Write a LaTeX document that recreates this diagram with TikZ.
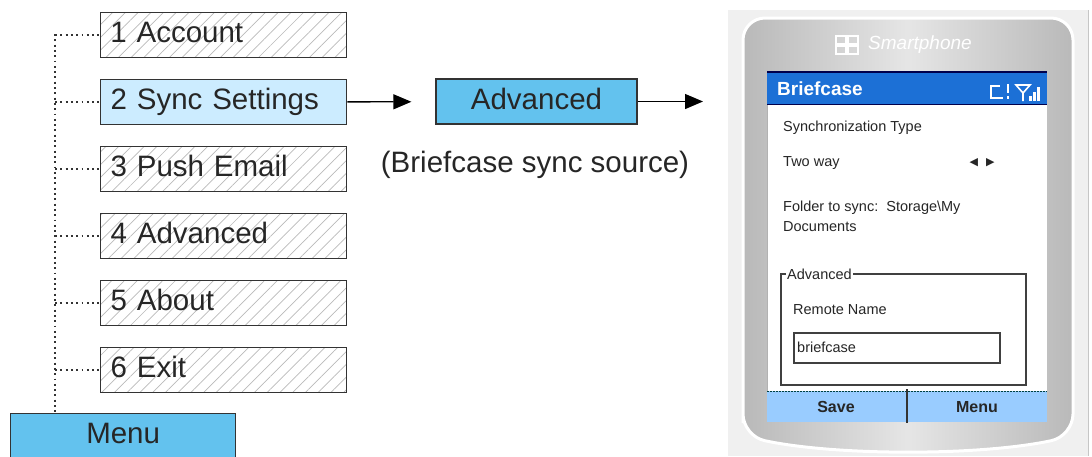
\documentclass[tikz,border=0pt]{standalone}
\usepackage{fontspec}
\setmainfont{Liberation Sans}
\newfontfamily\symfont{DejaVu Sans}
\usetikzlibrary{positioning,patterns.meta,arrows.meta}
\definecolor{selblue}{RGB}{204,236,255}
\definecolor{actblue}{RGB}{99,194,238}
\definecolor{barblue}{RGB}{28,112,214}
\definecolor{keyblue}{RGB}{153,204,255}
\begin{document}
\begin{tikzpicture}[x=1pt, y=-1pt,
    bx/.style={draw=black!80, line width=1.3pt, minimum height=45pt, text=black!85,
      text height=21pt, text depth=6pt, font=\fontsize{29.5}{32}\selectfont},
    itm/.style={bx, anchor=north west, text width=226pt, inner xsep=10pt, align=left,
      pattern={Lines[angle=45,distance=9pt,line width=0.7pt]}, pattern color=gray!55},
    sel/.style={bx, anchor=north west, text width=226pt, inner xsep=10pt, align=left, fill=selblue},
    act/.style={bx, fill=actblue},
    dot/.style={black!80, line width=1.9pt, dash pattern=on 1.9pt off 3.4pt},
    ar/.style={black, line width=1.3pt, -{Triangle[length=18pt,width=15pt]}},
    ph/.style={anchor=west, inner sep=0pt, text=black!85, font=\fontsize{14.5}{17}\selectfont},
    key/.style={inner sep=0pt, text=black!85, font=\bfseries\fontsize{16}{18}\selectfont}
  ]
  \useasboundingbox (0,0) rectangle (1092,456);
  % menu items
  \foreach \n/\t in {1/Account,3/Push Email,4/Advanced,5/About,6/Exit} {
    \node[itm] (m\n) at (100,{12+67*(\n-1)}) {\n\ \t};
  }
  \node[sel] (m2) at (100,79) {2 Sync Settings};
  \node[act, minimum width=225pt, anchor=north west] (menu) at (10,413) {Menu};
  \coordinate (t) at (55,34);
  \draw[dot] (t) -- (t |- menu.north);
  \foreach \i in {1,...,6} {
    \draw[dot] (m\i.west -| t) -- (m\i.west);
  }
  % sync source
  \node[act, minimum width=201pt] (adv) at (536.5,101.5) {Advanced};
  \node[inner sep=0pt, text=black!85, font=\fontsize{29.5}{32}\selectfont] (src) at (535,165) {(Briefcase sync source)};
  \coordinate (pin) at (703,101.5);
  \draw[ar, shorten >=24pt] (m2) -- (adv);
  \draw[ar] (adv) -- (pin);
  % phone
  \fill[gray!12] (728,10) rectangle (1088,456);
  \draw[gray!45, line width=1pt] (1088,10) -- (1088,456);
  \path[draw=white, line width=3pt, left color=gray!55, right color=gray!55, middle color=gray!20,
    rounded corners=22pt] (743,436) -- (743,18) -- (1073,18) -- (1073,436)
    .. controls (980,456) and (836,456) .. (743,436) -- cycle;
  \foreach \dx/\dy in {0/0,12/0,0/10,12/10} {
    \draw[white, line width=1.3pt] (836+\dx,36+\dy) rectangle ++(10,8);
  }
  \node[anchor=west, inner sep=0pt, text=white, font=\itshape\fontsize{19}{21}\selectfont] (logo) at (868,45) {Smartphone};
  \fill[white] (767,72) rectangle (1047,422);
  \draw[gray!60, line width=1pt] (767,72) -- (767,422);
  \fill[barblue] (767,72) rectangle (1047,104);
  \draw[blue!30!black, line width=1.5pt] (767,72) -- (1047,72);
  \draw[blue!30!black, line width=1pt] (767,104) -- (1047,104);
  \node[ph, text=white, font=\bfseries\fontsize{19}{21}\selectfont] (ttl) at (777,89) {Briefcase};
  \draw[white, line width=2pt] (1000,86) -- (991,86) -- (991,98) -- (1003,98);
  \draw[white, line width=2pt] (1008,84) -- (1008,93);
  \fill[white] (1006.8,96) rectangle (1009.2,99);
  \draw[white, line width=1.6pt] (1016,85) -- (1030,85) -- (1023,93) -- cycle (1023,93) -- (1023,101);
  \foreach \bx/\bh in {1029/5,1033/9,1037/14} {
    \fill[white] (\bx,101) rectangle ++(2.5,-\bh);
  }
  \node[ph] (ty) at (783,128) {Synchronization Type};
  \node[ph] (two) at (783,163) {Two way};
  \node[inner sep=0pt, text=black!85, font=\symfont\fontsize{11}{13}\selectfont] (sw) at (982,163) {◀\hspace{8pt}▶};
  \node[ph] (fld) at (783,208) {Folder to sync:\ \ Storage\textbackslash My};
  \node[ph] (doc) at (783,227) {Documents};
  \draw[black!75, line width=1.3pt] (781,274) rectangle (1026,385);
  \node[ph, fill=white, inner xsep=1pt] (grp) at (786,274) {Advanced};
  \node[ph] (rn) at (793,310) {Remote Name};
  \node[draw=black!75, line width=2pt, minimum width=206pt, minimum height=30pt, anchor=north west,
    inner sep=3pt] (tb) at (793,332) {};
  \node[ph] (bc) at (797,347) {briefcase};
  \fill[keyblue] (767,391) rectangle (1047,422);
  \draw[teal!50!black, line width=1pt, dash pattern=on 2pt off 1pt] (767,391) -- (1047,391);
  \draw[black!80, line width=1.3pt] (907,389) -- (907,423);
  \node[key] (save) at (836,407) {Save};
  \node[key] (mnu) at (977,407) {Menu};
\end{tikzpicture}
\end{document}
